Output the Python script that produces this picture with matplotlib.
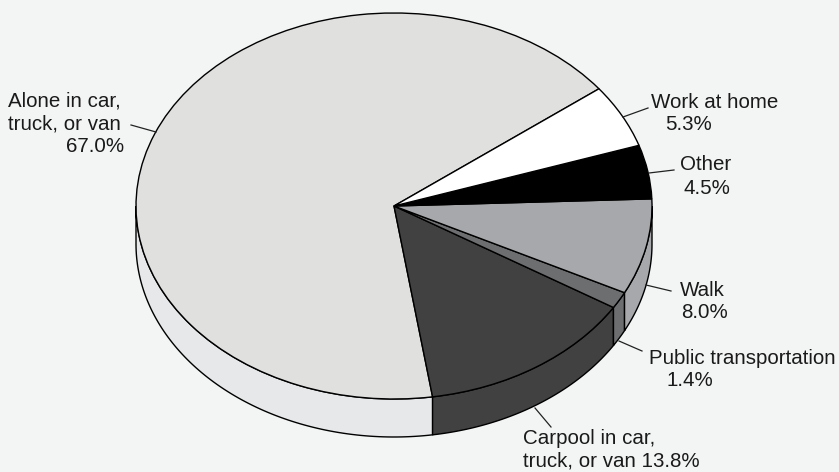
import matplotlib
matplotlib.use('Agg')
import matplotlib.pyplot as plt
import numpy as np

labels = ['Alone in car,\ntruck, or van', 'Carpool in car,\ntruck, or van', 'Public transportation', 'Walk', 'Other', 'Work at home']
shares = [67.0, 13.8, 1.4, 8.0, 4.5, 5.3]
top_colors = ['#e0e0df', '#414141', '#6d6e70', '#a7a8ab', '#000000', '#ffffff']
side_colors = ['#e7e8ea', '#414141', '#6d6e70', '#a7a8ab', '#000000', '#ffffff']
bg = '#f3f5f4'

W, H = 839, 472
cx, cy = 394, 206
rx, ry = 258, 193
depth = 38 / ry
start = 37.4

plt.rcParams['font.family'] = ['Liberation Sans', 'DejaVu Sans']
fig = plt.figure(figsize=(W / 100, H / 100), dpi=100, facecolor=bg)
ax = fig.add_axes([0, 0, 1, 1])

# bottom rim first, only the part facing us shows
edges = start + np.cumsum([0] + shares) * 3.6
for i in range(len(shares)):
    a0, a1 = edges[i], edges[i + 1]
    for lo, hi in [(a0, a1), (a0 - 360, a1 - 360)]:
        lo2, hi2 = max(lo, 180), min(hi, 360)
        if hi2 <= lo2:
            continue
        t = np.radians(np.linspace(lo2, hi2, 100))
        xs = np.r_[np.cos(t), np.cos(t[::-1])]
        ys = np.r_[np.sin(t), np.sin(t[::-1]) - depth]
        ax.fill(xs, ys, facecolor=side_colors[i], edgecolor='black', lw=1.0, zorder=1)

wedges, _ = ax.pie(shares, colors=top_colors, startangle=start, counterclock=True,
                   wedgeprops=dict(edgecolor='black', linewidth=1.0, zorder=2))
for w in wedges:
    w.set_zorder(2)

ax.set_aspect('auto')
ax.set_xlim(-cx / rx, (W - cx) / rx)
ax.set_ylim((cy - H) / ry, cy / ry)
ax.axis('off')


def px(x, y):
    return (x - cx) / rx, (cy - y) / ry


notes = [
    ('Work at home', (651, 102), 'left'), ('5.3%', (665, 124), 'left'),
    ('Other', (680, 165), 'left'), ('4.5%', (684, 188), 'left'),
    ('Walk', (680, 290), 'left'), ('8.0%', (681, 313), 'left'),
    ('Public transportation', (649, 358), 'left'), ('1.4%', (666, 381), 'left'),
    ('Carpool in car,', (523, 439), 'left'), ('truck, or van 13.8%', (523, 461), 'left'),
    ('Alone in car,', (8, 101), 'left'), ('truck, or van', (8, 124), 'left'), ('67.0%', (124, 146), 'right'),
]
for s, (x, y), ha in notes:
    ax.text(*px(x, y), s, fontsize=14.8, color='#1a1a1a', ha=ha, va='center')

leaders = [
    ((648, 108), (623, 117)), ((674, 170), (649, 173)), ((671, 291), (646, 285)),
    ((642, 351), (619, 341)), ((551, 427), (535, 408)), ((131, 125), (156, 132)),
]
for p0, p1 in leaders:
    ax.plot(*zip(px(*p0), px(*p1)), color='#222222', lw=0.9, zorder=3)

fig.savefig('out.png', dpi=100, facecolor=bg)
